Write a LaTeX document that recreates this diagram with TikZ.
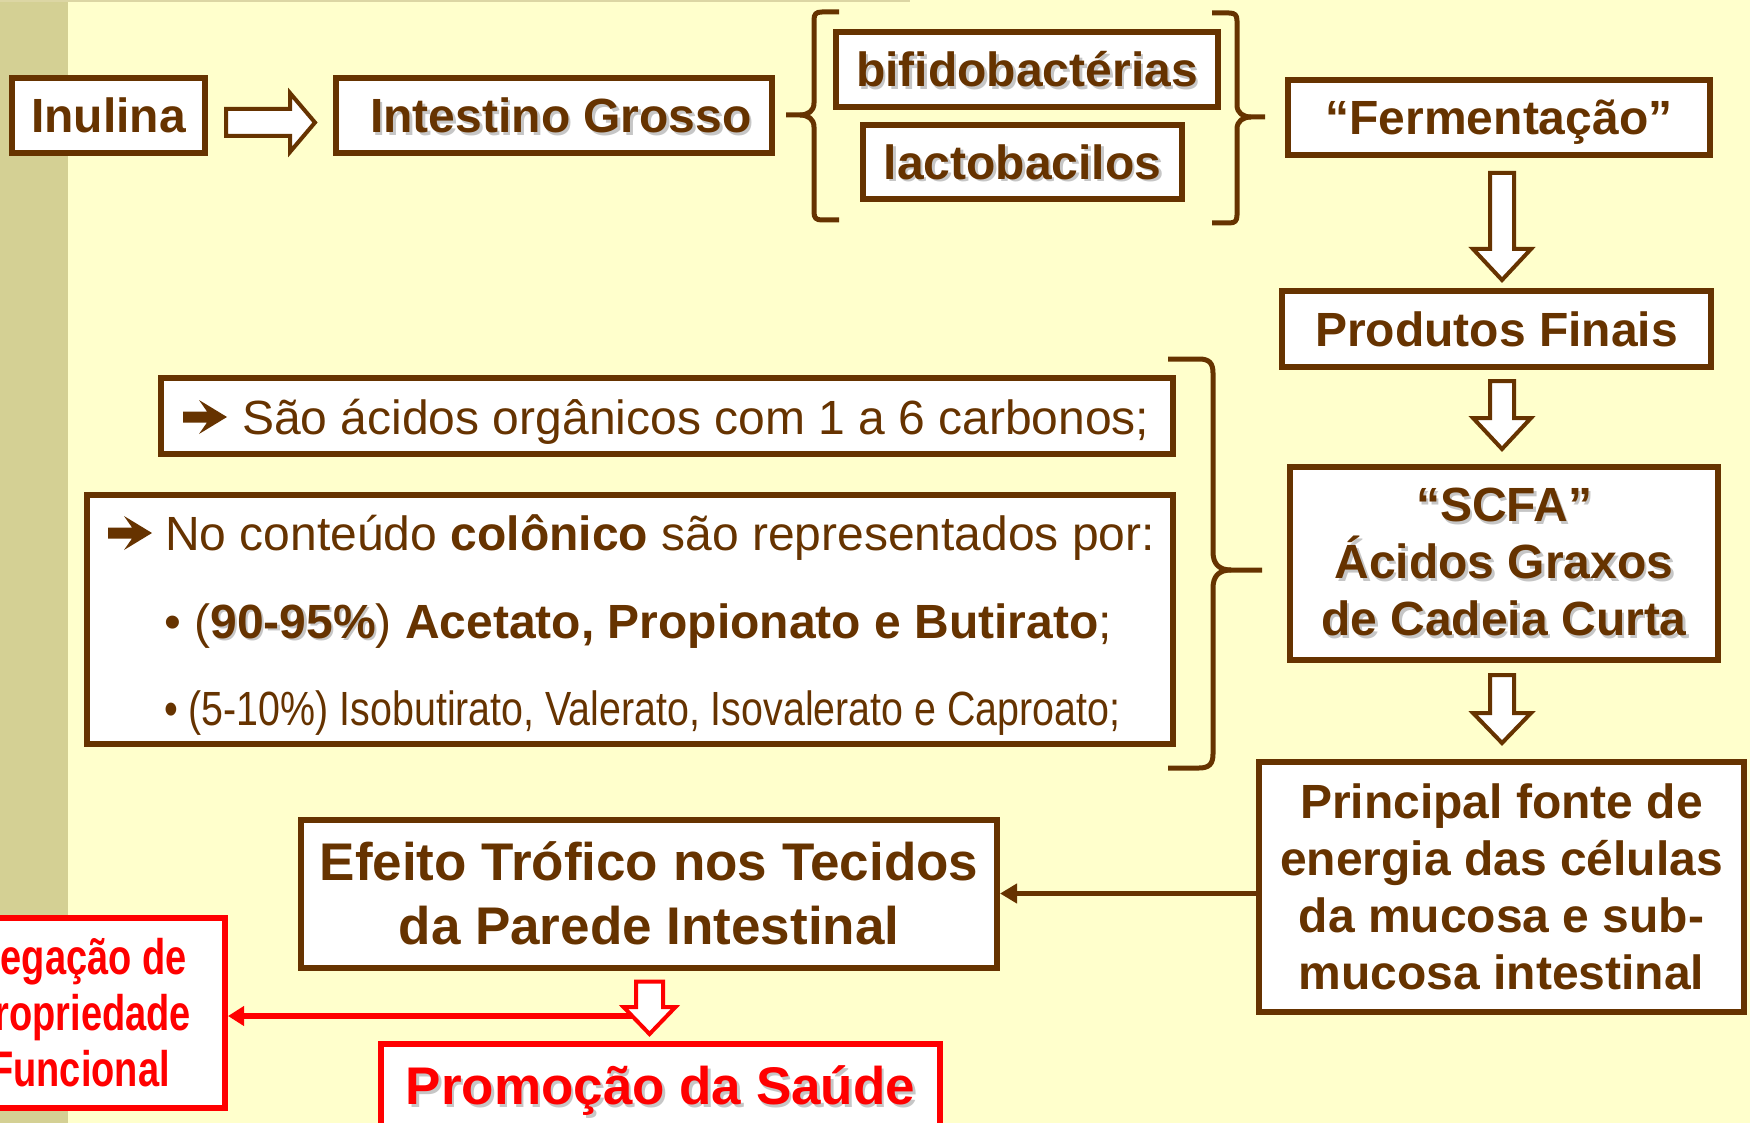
\documentclass[tikz,border=0pt]{standalone}
\usepackage{fontspec}
\setmainfont{Liberation Sans}
\newfontfamily\narrowfont[FakeStretch=0.82]{Liberation Sans}
\newfontfamily\narrowboldfont[FakeStretch=0.76]{Liberation Sans}
\usetikzlibrary{arrows.meta,calc}
\definecolor{bg}{HTML}{FFFFCC}
\definecolor{strip}{HTML}{D4D094}
\definecolor{topline}{HTML}{DCD6A4}
\definecolor{brn}{HTML}{663300}
\definecolor{rd}{HTML}{FF0000}
\definecolor{shd}{HTML}{C6C6C6}
\newcommand\shadowed[1]{\makebox[0pt][l]{\hspace{2.5pt}\raisebox{-2.5pt}{\textcolor{shd}{#1}}}#1}
\newcommand\hollowdown[6]{%
  \draw[hollow, draw=#3] let \p1=(#1), \p2=(#2) in
    (\x1-#4pt,\y1) -- (\x1-#4pt,\y2+#6pt) -- (\x1-#5pt,\y2+#6pt) -- (\x1,\y2)
    -- (\x1+#5pt,\y2+#6pt) -- (\x1+#4pt,\y2+#6pt) -- (\x1+#4pt,\y1) -- cycle;}
\newcommand\hollowright[6]{%
  \draw[hollow, draw=#3] let \p1=(#1), \p2=(#2) in
    (\x1,\y1-#4pt) -- (\x2-#6pt,\y1-#4pt) -- (\x2-#6pt,\y1-#5pt) -- (\x2,\y1)
    -- (\x2-#6pt,\y1+#5pt) -- (\x2-#6pt,\y1+#4pt) -- (\x1,\y1+#4pt) -- cycle;}
\newcommand\heavyarrow[1]{%
  \fill[brn, shift={(#1)}] (0,-11.5) -- (24,-11.5) -- (16,0) -- (44,-17)
    -- (16,-34) -- (24,-22.5) -- (0,-22.5) -- cycle;}
\begin{document}
\begin{tikzpicture}[x=1pt,y=-1pt,
  box/.style={draw=brn, line width=6pt, fill=white, inner sep=0pt, text=brn,
    font=\bfseries\fontsize{48}{57}\selectfont, align=center},
  redbox/.style={box, draw=rd, text=rd},
  single/.style={text height=40pt, text depth=5.6pt},
  big/.style={font=\bfseries\fontsize{53}{64}\selectfont},
  singlebig/.style={text height=44pt, text depth=6pt},
  txt/.style={inner sep=0pt, text=brn, font=\fontsize{48}{57}\selectfont, anchor=base west},
  hollow/.style={line width=4pt, fill=white, line join=miter},
  brace/.style={draw=brn, line width=5pt, line join=round},
  conn/.style={draw=brn, line width=5pt, -{Triangle[length=17pt,width=19pt]}},
  redconn/.style={draw=rd, line width=5.5pt, -{Triangle[length=16pt,width=19pt]}}]
\useasboundingbox (0,0) rectangle (1750,1123);
\clip (0,0) rectangle (1750,1123);
\fill[bg] (0,0) rectangle (1750,1123);
\fill[strip] (0,0) rectangle (68,1123);
\fill[topline] (0,0) rectangle (910,2.5);

% top row
\node[box, single, minimum width=193pt, minimum height=75pt] (inulina) at (108.5,115.5) {Inulina};
\node[box, single, minimum width=436pt, minimum height=75pt] (intestino) at (554,115.5) {\hspace*{14pt}\shadowed{Intestino Grosso}};
\node[box, single, minimum width=382pt, minimum height=75pt] (bifido) at (1027,69.5) {\shadowed{bifidobactérias}};
\node[box, single, minimum width=319pt, minimum height=74pt] (lacto) at (1022.5,162) {\shadowed{lactobacilos}};
\node[box, single, minimum width=422pt, minimum height=75pt] (ferm) at (1499,117.5) {“Fermentação”};

% right column
\node[box, single, minimum width=429pt, minimum height=76pt] (prod) at (1496.5,329) {Produtos Finais};
\node[box, minimum width=428pt, minimum height=193pt] (scfa) at (1504,563.5)
  {\shadowed{“SCFA”}\\\shadowed{Ácidos Graxos}\\\shadowed{de Cadeia Curta}};
\node[box, minimum width=485pt, minimum height=250pt] (principal) at (1501.5,887)
  {Principal fonte de\\energia das células\\da mucosa e sub-\\mucosa intestinal};

% left text boxes
\node[box, minimum width=1012pt, minimum height=76pt] (acid) at (667,416) {};
\coordinate (acidarr) at (183,434);
\heavyarrow{acidarr}
\node[txt] (acidtxt) at (242,434) {São ácidos orgânicos com 1 a 6 carbonos;};

\node[box, minimum width=1086pt, minimum height=249pt] (colon) at (630,619.5) {};
\coordinate (colarr) at (108,550);
\heavyarrow{colarr}
\node[txt] (col1) at (165,550) {No conteúdo \textbf{colônico} são representados por:};
\node[txt] (col2) at (164,638) {• (\textbf{\shadowed{90-95\%}}) \textbf{Acetato, Propionato e Butirato};};
\node[txt] (col3) at (164,725) {\narrowfont • (5-10\%) Isobutirato, Valerato, Isovalerato e Caproato;};

% bottom
\node[box, big, minimum width=696pt, minimum height=148pt] (efeito) at (649,893.5)
  {Efeito Trófico nos Tecidos\\da Parede Intestinal};
\node[redbox, font=\narrowboldfont\bfseries\fontsize{50}{56}\selectfont, minimum width=290pt, minimum height=190pt] (neg) at (80,1012.5)
  {Negação de\\Propriedade\\Funcional};
\node[redbox, big, singlebig, minimum width=559pt, minimum height=83pt] (promo) at (660.5,1085.5)
  {\shadowed{Promoção da Saúde}};

% braces
\draw[brace] (839,12) -- (822,12) .. controls (816,12) and (814,14) .. (814,20) -- (814,103)
  .. controls (814,111) and (808,115) .. (800,115) -- (786,115);
\draw[brace] (800,115) .. controls (808,115) and (814,119) .. (814,127) -- (814,212)
  .. controls (814,218) and (816,220) .. (822,220) -- (839,220);
\draw[brace] (1212,13) -- (1229,13) .. controls (1235,13) and (1237,15) .. (1237,21) -- (1237,105)
  .. controls (1237,113) and (1243,117) .. (1251,117) -- (1265,117);
\draw[brace] (1251,117) .. controls (1243,117) and (1237,121) .. (1237,129) -- (1237,215)
  .. controls (1237,221) and (1235,223) .. (1229,223) -- (1212,223);
\draw[brace] (1168,359) -- (1199,359) .. controls (1209,359) and (1213,363) .. (1213,373) -- (1213,552)
  .. controls (1213,564) and (1219,570) .. (1231,570) -- (1262,570);
\draw[brace] (1231,570) .. controls (1219,570) and (1213,576) .. (1213,588) -- (1213,754)
  .. controls (1213,764) and (1209,768) .. (1199,768) -- (1168,768);

% hollow arrows
\coordinate (a1s) at ($(inulina.east)+(18,7)$);
\coordinate (a1t) at ($(intestino.west)+(-18,7)$);
\hollowright{a1s}{a1t}{brn}{13.5}{29.5}{25}
\coordinate (d1s) at ($(ferm.south)+(3,15)$);
\coordinate (d1t) at ($(prod.north)+(0,-8)$);
\hollowdown{d1s}{d1t}{brn}{12}{29}{31}
\coordinate (d2s) at ($(prod.south)+(5.5,11)$);
\coordinate (d2t) at ($(scfa.north)+(0,-15)$);
\hollowdown{d2s}{d2t}{brn}{12}{29}{31}
\coordinate (d3s) at ($(scfa.south)+(-2,12)$);
\coordinate (d3t) at ($(principal.north)+(0,-16)$);
\hollowdown{d3s}{d3t}{brn}{12}{29}{30}

% connectors
\draw[conn] (efeito.east -| principal.west) -- (efeito.east);
\coordinate (r1s) at ($(efeito.south)+(0.5,11)$);
\coordinate (r1t) at ($(promo.north)+(-11,-7)$);
\coordinate (rl) at ($(r1s)+(-18,34.5)$);
\draw[redconn] (rl) -- (rl -| neg.east);
\hollowdown{r1s}{r1t}{rd}{13.5}{26}{27}
\end{tikzpicture}
\end{document}
